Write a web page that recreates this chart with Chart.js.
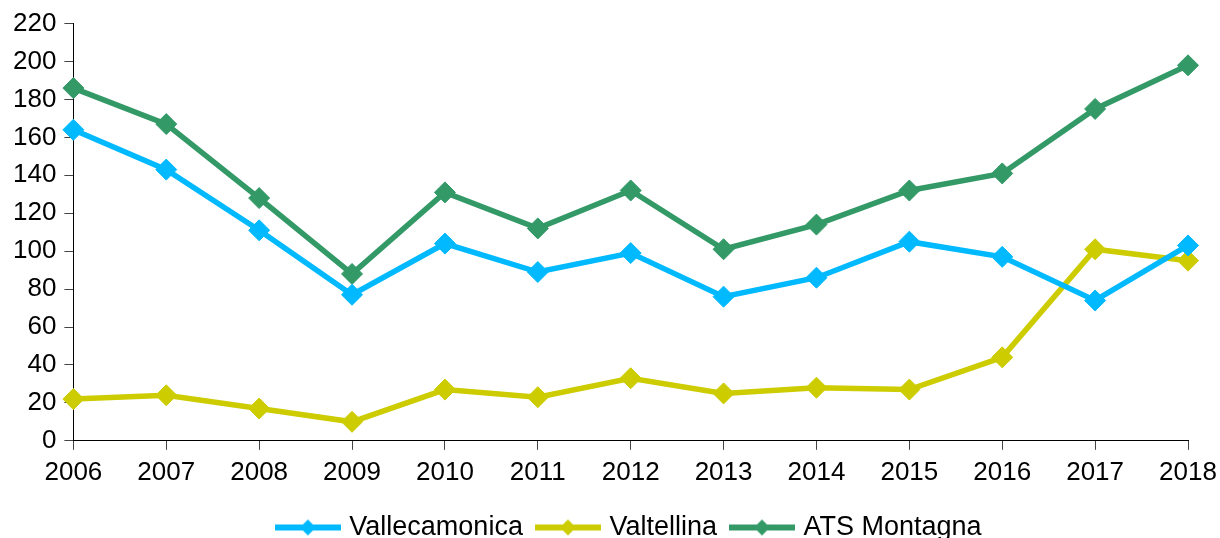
<!DOCTYPE html>
<html>
<head>
<meta charset="utf-8">
<script src="https://cdn.jsdelivr.net/npm/chart.js@4/dist/chart.umd.min.js"></script>
<style>
  html, body { margin: 0; padding: 0; background: #fff; }
  #wrap { width: 1220px; height: 538px; position: relative; }
</style>
</head>
<body>
<div id="wrap"><canvas id="c"></canvas></div>
<script>
const years = ['2006','2007','2008','2009','2010','2011','2012','2013','2014','2015','2016','2017','2018'];
const vallecamonica = [164, 143, 111, 77, 104, 89, 99, 76, 86, 105, 97, 74, 103];
const valtellina = [22, 24, 17, 10, 27, 23, 33, 25, 28, 27, 44, 101, 95];
const atsMontagna = [186, 167, 128, 88, 131, 112, 132, 101, 114, 132, 141, 175, 198];
const seriesNames = ['Vallecamonica', 'Valtellina', 'ATS Montagna'];
const seriesColors = ['#00B9FF', '#CCCC00', '#339966'];

function legendIcon(color) {
  const cv = document.createElement('canvas');
  cv.width = 66; cv.height = 18;
  const g = cv.getContext('2d');
  g.strokeStyle = color; g.lineWidth = 6;
  g.beginPath(); g.moveTo(0, 9); g.lineTo(66, 9); g.stroke();
  g.fillStyle = color;
  g.beginPath(); g.moveTo(33, 1); g.lineTo(41, 9); g.lineTo(33, 17); g.lineTo(25, 9); g.closePath(); g.fill();
  return cv;
}
const icons = seriesColors.map(legendIcon);

const FONT = "'Liberation Sans', Arial, sans-serif";
function ds(label, data, color) {
  return {
    label, data,
    borderColor: color, backgroundColor: color,
    borderWidth: 5.5,
    pointStyle: 'rectRot', pointRadius: 10.5, pointHoverRadius: 10.5,
    pointBorderWidth: 1, pointBackgroundColor: color, pointBorderColor: color,
    tension: 0
  };
}

new Chart(document.getElementById('c'), {
  type: 'line',
  data: {
    labels: years,
    datasets: [
      ds(seriesNames[0], vallecamonica, seriesColors[0]),
      ds(seriesNames[1], valtellina, seriesColors[1]),
      ds(seriesNames[2], atsMontagna, seriesColors[2])
    ]
  },
  options: {
    responsive: true,
    maintainAspectRatio: false,
    animation: false,
    layout: { padding: { top: 12, right: 32, left: 5, bottom: -13 } },
    plugins: {
      tooltip: { enabled: false },
      legend: {
        position: 'bottom',
        fullSize: false,
        labels: {
          usePointStyle: true,
          pointStyleWidth: 56,
          padding: 17,
          color: '#000',
          font: { family: FONT, size: 27 },
          generateLabels(chart) {
            return chart.data.datasets.map((d, i) => ({
              text: d.label,
              fillStyle: d.borderColor,
              strokeStyle: d.borderColor,
              lineWidth: 0,
              pointStyle: icons[i],
              hidden: false,
              datasetIndex: i,
              fontColor: '#000'
            }));
          }
        }
      }
    },
    scales: {
      x: {
        offset: false,
        afterFit(scale) { scale.height += 2; scale.paddingRight = 0; },
        grid: { display: true, drawOnChartArea: false, drawTicks: true, tickLength: 9, color: '#444' },
        border: { display: true, color: '#000', width: 1 },
        ticks: { color: '#000', font: { family: FONT, size: 26 }, padding: 7, maxRotation: 0, autoSkip: false }
      },
      y: {
        min: 0, max: 220,
        grid: { display: true, drawOnChartArea: false, drawTicks: true, tickLength: 9, color: '#444' },
        border: { display: true, color: '#000', width: 1 },
        ticks: { stepSize: 20, color: '#000', font: { family: FONT, size: 26 }, padding: 8 }
      }
    }
  }
});
</script>
</body>
</html>
